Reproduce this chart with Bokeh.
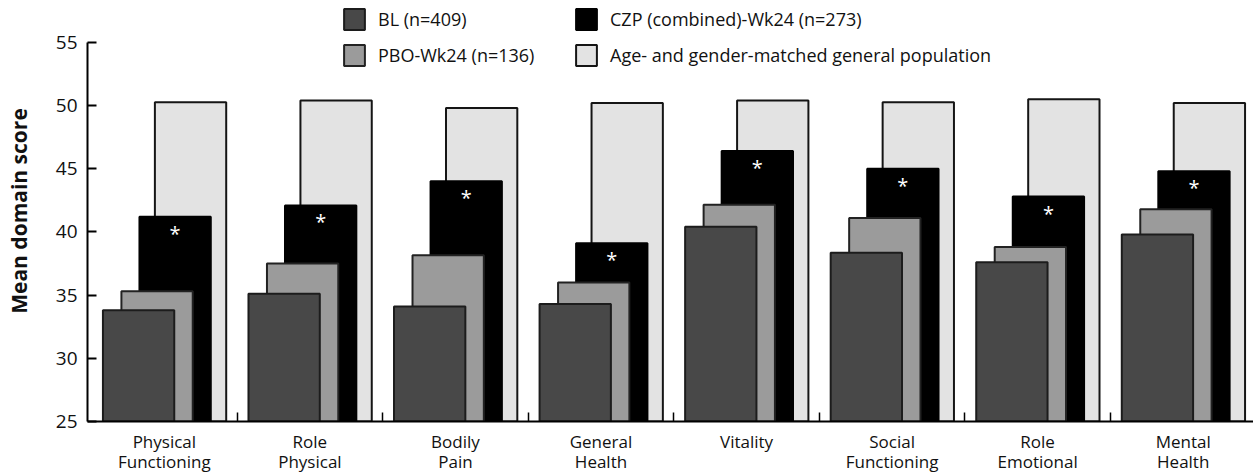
import numpy as np
from bokeh.plotting import figure
from bokeh.models import ColumnDataSource, Legend, LegendItem, FixedTicker, Range1d
from bokeh.embed import file_html
from bokeh.resources import INLINE
from bokeh.core.properties import value

# ---- data ----
categories = ["Physical\nFunctioning", "Role\nPhysical", "Bodily\nPain", "General\nHealth",
              "Vitality", "Social\nFunctioning", "Role\nEmotional", "Mental\nHealth"]
bl_scores = [33.8, 35.1, 34.1, 34.3, 40.4, 38.35, 37.6, 39.8]
pbo_scores = [35.3, 37.5, 38.15, 36.0, 42.15, 41.1, 38.8, 41.8]
czp_scores = [41.2, 42.1, 44.0, 39.1, 46.4, 45.0, 42.8, 44.8]
gen_scores = [50.25, 50.4, 49.8, 50.2, 50.4, 50.25, 50.5, 50.2]
significance = ["*", "*", "*", "*", "*", "*", "*", "*"]
series_names = ["BL (n=409)", "PBO-Wk24 (n=136)", "CZP (combined)-Wk24 (n=273)",
                "Age- and gender-matched general population"]
y_ticks = [25, 30, 35, 40, 45, 50, 55]

FONT = "Open Sans"
n = len(categories)
centers = np.arange(n) + 0.5
offsets = [-0.177, -0.05, 0.074, 0.18]
bar_w = 0.49

p = figure(width=1253, height=475,
           x_range=Range1d(-0.028, 7.983), y_range=Range1d(25, 58.31),
           output_backend="svg", toolbar_location=None,
           min_border_left=87, min_border_right=0, min_border_top=0, min_border_bottom=53)
p.outline_line_color = None
p.grid.visible = False

src = ColumnDataSource(dict(
    bl_x=centers + offsets[0], pbo_x=centers + offsets[1],
    czp_x=centers + offsets[2], gen_x=centers + offsets[3],
    bl=bl_scores, pbo=pbo_scores, czp=czp_scores, gen=gen_scores, sig=significance))

r_gen = p.vbar(x="gen_x", top="gen", bottom=25, width=bar_w, source=src,
               fill_color="#e3e3e3", line_color="#151515", line_width=2)
r_czp = p.vbar(x="czp_x", top="czp", bottom=25, width=bar_w, source=src,
               fill_color="#000000", line_color="#000000", line_width=2)
r_pbo = p.vbar(x="pbo_x", top="pbo", bottom=25, width=bar_w, source=src,
               fill_color="#9b9b9b", line_color="#222222", line_width=2)
r_bl = p.vbar(x="bl_x", top="bl", bottom=25, width=bar_w, source=src,
              fill_color="#484848", line_color="#1c1c1c", line_width=2)

p.text(x="czp_x", y="czp", text="sig", source=src, text_color="white",
       text_align="center", text_baseline="top", y_offset=3,
       text_font_size="20px", text_font=value(FONT))

# x axis
xa = p.xaxis[0]
xa.ticker = FixedTicker(ticks=list(centers), minor_ticks=list(np.arange(1, n)))
xa.major_label_overrides = {float(c): lab for c, lab in zip(centers, categories)}
xa.major_tick_in = 0
xa.major_tick_out = 0
xa.major_tick_line_color = None
xa.minor_tick_in = 9
xa.minor_tick_out = 0
xa.minor_tick_line_width = 1.5
xa.minor_tick_line_color = "black"
xa.axis_line_width = 2
xa.axis_line_color = "black"
xa.major_label_text_font = FONT
xa.major_label_text_font_size = "17px"
xa.major_label_text_line_height = 0.88
xa.major_label_text_color = "#111111"
xa.major_label_standoff = 8

# y axis
ya = p.yaxis[0]
ya.ticker = FixedTicker(ticks=y_ticks)
ya.bounds = (25, 55)
ya.major_tick_in = 9
ya.major_tick_out = 0
ya.major_tick_line_width = 2
ya.minor_tick_line_color = None
ya.axis_line_width = 2
ya.axis_line_color = "black"
ya.major_label_text_font = FONT
ya.major_label_text_font_size = "19px"
ya.major_label_text_color = "#111111"
ya.major_label_standoff = 10
ya.axis_label = "Mean domain score"
ya.axis_label_text_font = FONT
ya.axis_label_text_font_style = "bold"
ya.axis_label_text_font_size = "21px"
ya.axis_label_text_color = "#111111"
ya.axis_label_standoff = 20

def make_legend(items, loc):
    lg = Legend(items=items, location=loc, orientation="vertical",
                glyph_width=26, glyph_height=26, label_height=26,
                label_standoff=11, spacing=10, padding=0, margin=0,
                border_line_color=None, background_fill_alpha=0,
                label_text_font=FONT, label_text_font_size="18px",
                label_text_color="#111111")
    return lg

leg1 = make_legend([LegendItem(label=series_names[0], renderers=[r_bl]),
                    LegendItem(label=series_names[1], renderers=[r_pbo])], (254, 353))
leg2 = make_legend([LegendItem(label=series_names[2], renderers=[r_czp]),
                    LegendItem(label=series_names[3], renderers=[r_gen])], (486, 353))
p.add_layout(leg1)
p.add_layout(leg2)

open("out.html", "w").write(file_html(p, INLINE))
